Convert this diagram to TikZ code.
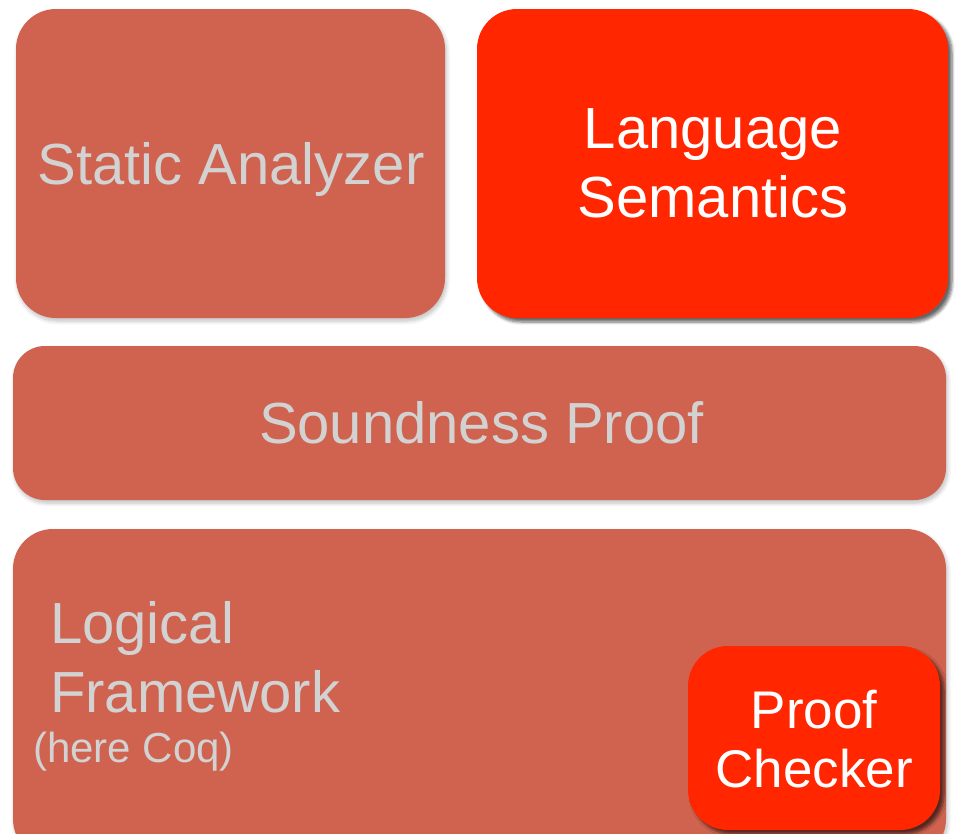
\documentclass[tikz,border=0pt]{standalone}
\usepackage{fontspec}
\setmainfont{Liberation Sans}
\usetikzlibrary{shadows.blur}

\definecolor{muted}{RGB}{207,99,79}
\definecolor{bright}{RGB}{255,38,0}
\definecolor{pale}{RGB}{210,210,210}

\tikzset{
  block/.style={rectangle, rounded corners=40pt, inner sep=0pt, fill=muted,
    blur shadow={shadow xshift=1.5pt, shadow yshift=-3pt, shadow blur steps=6,
      shadow blur radius=4pt, shadow opacity=25}},
  hot/.style={rectangle, rounded corners=40pt, inner sep=0pt, fill=bright,
    blur shadow={shadow xshift=4pt, shadow yshift=-4pt, shadow blur steps=6,
      shadow blur radius=3pt, shadow opacity=60}},
  paletext/.style={inner sep=0pt, text=pale, font=\fontsize{58pt}{69pt}\selectfont},
  whitetext/.style={inner sep=0pt, text=white, font=\fontsize{58pt}{69pt}\selectfont},
}

\begin{document}
\begin{tikzpicture}[x=1pt, y=-1pt]
  \useasboundingbox (0,0) rectangle (963,833);
  \clip (0,0) rectangle (963,833);

  % upper row
  \node[block, minimum width=429pt, minimum height=309pt] (sa) at (230.5,163.5) {};
  \node[hot, minimum width=471pt, minimum height=309pt] (ls) at (712.5,163.5) {};

  % middle bar
  \node[block, rounded corners=32pt, minimum width=933pt, minimum height=154pt] (sp) at (479.5,423) {};

  % bottom bar, running past the lower edge
  \node[block, minimum width=933pt, minimum height=330pt] (lf) at (479.5,694) {};
  \node[hot, minimum width=252pt, minimum height=184pt] (pc) at (814,738) {};

  % labels
  \node[paletext, anchor=base] (tsa) at (231,184) {Static Analyzer};
  \node[whitetext, anchor=base] (tls1) at (713,148) {Language};
  \node[whitetext, anchor=base] (tls2) at (713,217) {Semantics};
  \node[paletext, anchor=base] (tsp) at (481.5,443) {Soundness Proof};
  \node[paletext, anchor=base west] (tlf1) at (50,643) {Logical};
  \node[paletext, anchor=base west] (tlf2) at (50,712) {Framework};
  \node[inner sep=0pt, text=pale, font=\fontsize{42pt}{50pt}\selectfont, anchor=base west] (tlf3) at (33,762) {(here Coq)};
  \node[inner sep=0pt, text=white, font=\fontsize{53pt}{59pt}\selectfont, anchor=base] (tpc1) at (814,728) {Proof};
  \node[inner sep=0pt, text=white, font=\fontsize{53pt}{59pt}\selectfont, anchor=base] (tpc2) at (814,787) {Checker};
\end{tikzpicture}
\end{document}
